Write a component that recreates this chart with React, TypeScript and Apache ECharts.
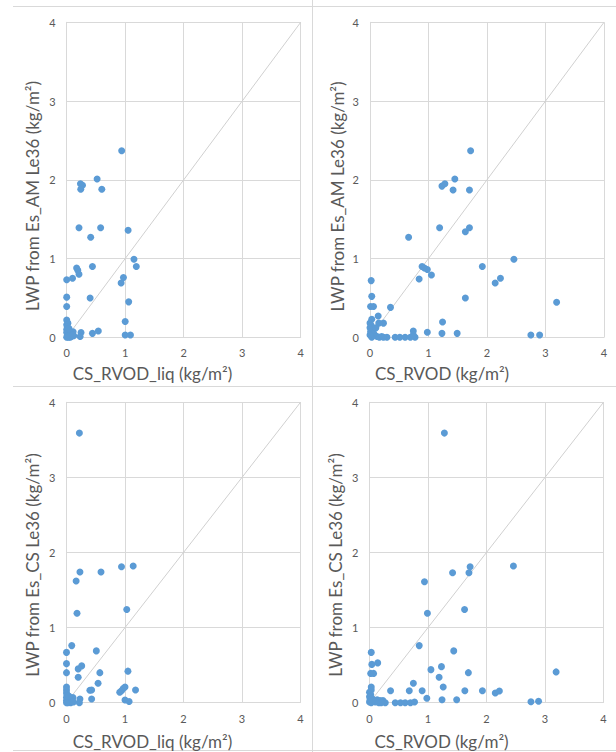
import React, { useEffect, useRef } from "react";
import * as echarts from "echarts";

// Cloud liquid water path comparisons: retrieved LWP (y) against CloudSat RVOD (x), kg/m²
const amVsLiq: number[][] = [
  [0.94, 2.37], [0.52, 2.01], [0.235, 1.95], [0.27, 1.93], [0.24, 1.88], [0.6, 1.88],
  [0.21, 1.39], [0.58, 1.39], [1.05, 1.36], [0.41, 1.27], [1.15, 0.99], [1.19, 0.9],
  [0.17, 0.88], [0.19, 0.85], [0.21, 0.8], [0.44, 0.9], [0.1, 0.75], [0.0, 0.73],
  [0.97, 0.76], [0.93, 0.69], [0.0, 0.51], [0.4, 0.5], [1.06, 0.45], [0.0, 0.39],
  [1.0, 0.2], [0.0, 0.22], [0.02, 0.18], [0.0, 0.16], [0.01, 0.13], [0.0, 0.1],
  [0.03, 0.08], [0.0, 0.06], [0.05, 0.04], [0.01, 0.02], [0.08, 0.01], [0.11, 0.07],
  [0.12, 0.02], [0.03, 0.0], [0.06, 0.0], [0.0, 0.0], [0.245, 0.06], [0.23, 0.01],
  [0.44, 0.05], [0.54, 0.08], [1.0, 0.03], [1.09, 0.03], [0.09, 0.03], [0.04, 0.11],
];

const amVsTotal: number[][] = [
  [1.72, 2.37], [1.45, 2.01], [1.23, 1.92], [1.28, 1.95], [1.42, 1.87], [1.7, 1.87],
  [1.19, 1.39], [1.7, 1.39], [1.63, 1.34], [0.66, 1.27], [2.46, 0.99], [1.92, 0.9],
  [0.89, 0.9], [0.93, 0.88], [0.98, 0.86], [1.05, 0.79], [0.84, 0.74], [2.23, 0.75],
  [2.14, 0.69], [0.02, 0.72], [1.63, 0.5], [3.19, 0.445], [0.03, 0.52], [0.01, 0.39],
  [0.06, 0.39], [0.35, 0.38], [0.14, 0.27], [1.24, 0.195], [0.23, 0.18], [0.15, 0.18],
  [0.03, 0.23], [0.74, 0.08], [0.98, 0.064], [1.23, 0.05], [1.49, 0.05], [2.75, 0.03],
  [2.9, 0.03], [0.43, 0.0], [0.51, 0.0], [0.6, 0.0], [0.69, 0.0], [0.77, 0.0],
  [0.29, 0.0], [0.74, 0.03], [0.0, 0.18], [0.02, 0.15], [0.0, 0.12], [0.04, 0.1],
  [0.01, 0.07], [0.06, 0.05], [0.1, 0.12], [0.08, 0.03], [0.12, 0.01], [0.16, 0.0],
  [0.2, 0.01], [0.03, 0.0], [0.0, 0.03], [0.23, 0.0],
];

const csVsLiq: number[][] = [
  [0.22, 3.59], [0.94, 1.81], [1.14, 1.82], [0.23, 1.74], [0.59, 1.74], [0.165, 1.62],
  [0.18, 1.19], [1.03, 1.24], [0.09, 0.76], [0.0, 0.67], [0.51, 0.69], [0.0, 0.52],
  [0.2, 0.45], [0.26, 0.49], [0.0, 0.4], [0.57, 0.4], [1.05, 0.42], [0.2, 0.34],
  [0.54, 0.26], [0.4, 0.165], [0.43, 0.17], [1.0, 0.21], [0.97, 0.19], [0.94, 0.16],
  [0.91, 0.14], [1.18, 0.17], [0.0, 0.21], [0.0, 0.17], [0.43, 0.05], [0.23, 0.05],
  [0.22, 0.0], [1.0, 0.035], [1.07, 0.015], [0.11, 0.07], [0.0, 0.13], [0.01, 0.1],
  [0.0, 0.07], [0.03, 0.05], [0.0, 0.03], [0.05, 0.02], [0.02, 0.0], [0.07, 0.0],
  [0.1, 0.02], [0.12, 0.01], [0.0, 0.0], [0.04, 0.09],
];

const csVsTotal: number[][] = [
  [1.28, 3.59], [1.72, 1.81], [2.46, 1.82], [1.42, 1.73], [1.7, 1.73], [0.94, 1.61],
  [0.99, 1.19], [1.625, 1.24], [0.85, 0.76], [1.44, 0.69], [0.03, 0.67], [0.04, 0.51],
  [0.14, 0.53], [0.02, 0.39], [0.07, 0.39], [1.69, 0.4], [3.19, 0.41], [1.05, 0.44],
  [1.23, 0.48], [1.19, 0.34], [0.75, 0.26], [1.26, 0.21], [0.36, 0.16], [0.68, 0.16],
  [0.9, 0.16], [1.63, 0.16], [1.93, 0.16], [2.15, 0.13], [2.22, 0.155], [0.98, 0.06],
  [1.24, 0.04], [1.49, 0.04], [2.76, 0.013], [2.89, 0.02], [0.03, 0.21], [0.03, 0.17],
  [0.44, 0.0], [0.53, 0.0], [0.61, 0.0], [0.7, 0.0], [0.77, 0.01], [0.0, 0.14],
  [0.02, 0.11], [0.0, 0.08], [0.04, 0.06], [0.01, 0.04], [0.06, 0.03], [0.13, 0.04],
  [0.18, 0.03], [0.23, 0.03], [0.1, 0.01], [0.16, 0.0], [0.27, 0.0], [0.03, 0.0],
  [0.0, 0.01], [0.2, 0.0],
];

// 1:1 reference line
const oneToOne: number[][] = [[0, 0], [4, 4]];

const xTitles = ["CS_RVOD_liq (kg/m²)", "CS_RVOD (kg/m²)", "CS_RVOD_liq (kg/m²)", "CS_RVOD (kg/m²)"];
const yTitles = [
  "LWP from Es_AM Le36 (kg/m²)",
  "LWP from Es_AM Le36 (kg/m²)",
  "LWP from Es_CS Le36 (kg/m²)",
  "LWP from Es_CS Le36 (kg/m²)",
];
const panelData = [amVsLiq, amVsTotal, csVsLiq, csVsTotal];

const FONT = "Lato, 'Open Sans', sans-serif";
const TEXT = "#595959";
const GRID = "#d9d9d9";
const DOT = "#5b9bd5";

// plot rectangles of the four panels
const grids = [
  { left: 66.7, top: 22.3, width: 234, height: 315 },
  { left: 370, top: 22.3, width: 234, height: 315 },
  { left: 66.5, top: 402.3, width: 234, height: 300.4 },
  { left: 369.5, top: 402.3, width: 234, height: 300.4 },
];
// title centres
const xTitlePos = [[152.5, 373], [442, 373], [152.5, 741], [441.5, 741]];
const yTitlePos = [[32.5, 196], [337.5, 196.5], [32.5, 565], [335.5, 565]];

export default function App() {
  const ref = useRef<HTMLDivElement>(null);

  useEffect(() => {
    if (!ref.current) return;
    const chart = echarts.init(ref.current, undefined, { renderer: "svg" });

    const axisCommon = {
      type: "value" as const,
      min: 0,
      max: 4,
      interval: 1,
      axisLine: { show: true, lineStyle: { color: GRID } },
      axisTick: { show: false },
      splitLine: { show: true, lineStyle: { color: GRID, width: 1 } },
      axisLabel: { color: TEXT, fontFamily: FONT, fontSize: 11 },
    };

    const xAxis = grids.map((_, i) => ({
      ...axisCommon,
      gridIndex: i,
      axisLabel: { ...axisCommon.axisLabel, margin: 10 },
    }));
    const yAxis = grids.map((_, i) => ({
      ...axisCommon,
      gridIndex: i,
      axisLabel: { ...axisCommon.axisLabel, margin: 11 },
    }));

    const series: any[] = [];
    panelData.forEach((d, i) => {
      series.push({
        type: "line",
        xAxisIndex: i,
        yAxisIndex: i,
        data: oneToOne,
        symbol: "none",
        silent: true,
        lineStyle: { color: "#d0d0d0", width: 1 },
        z: 1,
      });
      series.push({
        type: "scatter",
        xAxisIndex: i,
        yAxisIndex: i,
        data: d,
        symbol: "circle",
        symbolSize: 7,
        itemStyle: { color: DOT, opacity: 1 },
        z: 3,
      });
    });

    const border = { stroke: GRID, lineWidth: 1 };
    const graphic: any[] = [
      { type: "line", shape: { x1: 13, y1: 6.5, x2: 616, y2: 6.5 }, style: border, silent: true },
      { type: "line", shape: { x1: 13, y1: 386.5, x2: 616, y2: 386.5 }, style: border, silent: true },
      { type: "line", shape: { x1: 13, y1: 750.5, x2: 616, y2: 750.5 }, style: border, silent: true },
      { type: "line", shape: { x1: 312.5, y1: 0, x2: 312.5, y2: 752 }, style: border, silent: true },
    ];
    const titleStyle = (t: string) => ({
      text: t,
      fill: TEXT,
      font: `17px ${FONT}`,
      align: "center",
      verticalAlign: "middle",
    });
    xTitles.forEach((t, i) => {
      graphic.push({
        type: "text",
        x: xTitlePos[i][0],
        y: xTitlePos[i][1],
        silent: true,
        style: titleStyle(t),
      });
    });
    yTitles.forEach((t, i) => {
      graphic.push({
        type: "text",
        x: yTitlePos[i][0],
        y: yTitlePos[i][1],
        rotation: Math.PI / 2,
        silent: true,
        style: titleStyle(t),
      });
    });

    chart.setOption({
      animation: false,
      backgroundColor: "#ffffff",
      grid: grids.map((g) => ({ ...g, containLabel: false })),
      xAxis,
      yAxis,
      series,
      graphic,
    });

    return () => chart.dispose();
  }, []);

  return (
    <div
      ref={ref}
      style={{ position: "absolute", left: 0, top: 0, width: 616, height: 752 }}
    />
  );
}
